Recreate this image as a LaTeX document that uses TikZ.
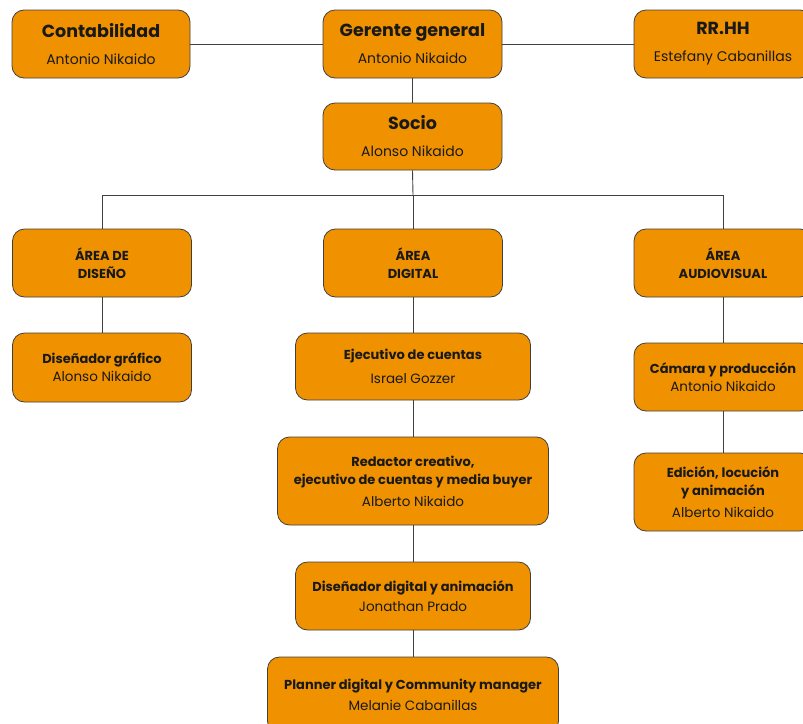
\documentclass[tikz,border=0pt]{standalone}
\usepackage{fontspec}
\setmainfont{Poppins}
\definecolor{boxor}{RGB}{240,146,0}
\definecolor{edgec}{RGB}{64,64,64}
\newcommand{\bnm}{\fontsize{14}{18}\selectfont}
\newcommand{\snm}{\fontsize{13.5}{18}\selectfont}
\begin{document}
\begin{tikzpicture}[x=1pt,y=-1pt,
 box/.style={draw=edgec, line width=0.8pt, fill=boxor, rounded corners=12pt, align=center, inner sep=0pt, text=black!90},
 big/.style={font=\fontsize{17.5}{20}\selectfont},
 small/.style={font=\fontsize{13}{18}\selectfont},
 conn/.style={draw=edgec, line width=0.9pt}]
\useasboundingbox (0,0) rectangle (803,723);
% top row
\node[box, big, minimum width=178pt, minimum height=68pt] (cont) at (101,44)
  {\textbf{Contabilidad}\\[7pt]{\bnm Antonio Nikaido}};
\node[box, big, minimum width=179pt, minimum height=68pt] (ger) at (412.5,44)
  {\textbf{Gerente general}\\[7pt]{\bnm Antonio Nikaido}};
\node[box, big, minimum width=178pt, minimum height=68pt] (rrhh) at (723,44)
  {\textbf{RR.HH}\\[7pt]{\bnm Estefany Cabanillas}};
\node[box, big, minimum width=179pt, minimum height=67pt] (soc) at (412.5,136.5)
  {\textbf{Socio}\\[7pt]{\bnm Alonso Nikaido}};
% areas
\node[box, small, minimum width=179pt, minimum height=68pt] (dis) at (102,263)
  {\textbf{ÁREA DE}\\\textbf{DISEÑO}};
\node[box, small, minimum width=179pt, minimum height=68pt] (dig) at (413,263)
  {\textbf{ÁREA}\\\textbf{DIGITAL}};
\node[box, small, minimum width=178pt, minimum height=68pt] (aud) at (723,263)
  {\textbf{ÁREA}\\\textbf{AUDIOVISUAL}};
% design
\node[box, small, minimum width=179pt, minimum height=69pt] (dgraf) at (102,367.5)
  {\textbf{Diseñador gráfico}\\{\snm Alonso Nikaido}};
% digital
\node[box, small, minimum width=235pt, minimum height=67pt] (ejec) at (413,366.5)
  {\textbf{Ejecutivo de cuentas}\\[6pt]{\snm Israel Gozzer}};
\node[box, small, minimum width=271pt, minimum height=88pt] (redac) at (413,481)
  {\textbf{Redactor creativo,}\\\textbf{ejecutivo de cuentas y media buyer}\\[4pt]{\snm Alberto Nikaido}};
\node[box, small, minimum width=235pt, minimum height=68pt] (ddig) at (413,596)
  {\textbf{Diseñador digital y animación}\\[2pt]{\snm Jonathan Prado}};
\node[box, small, minimum width=291pt, minimum height=76pt] (plan) at (413,695)
  {\textbf{Planner digital y Community manager}\\[3pt]{\snm Melanie Cabanillas}};
% audiovisual
\node[box, small, minimum width=178pt, minimum height=68pt] (cam) at (723,377)
  {\textbf{Cámara y producción}\\{\snm Antonio Nikaido}};
\node[box, small, minimum width=178pt, minimum height=78pt] (edi) at (723,492)
  {\textbf{Edición, locución}\\\textbf{y animación}\\[4pt]{\snm Alberto Nikaido}};
% connectors
\coordinate (busL) at (102,195);
\coordinate (busM) at (413,195);
\coordinate (busR) at (723,195);
\draw[conn] (cont.east) -- (ger.west);
\draw[conn] (ger.east) -- (rrhh.west);
\draw[conn] (ger.south) -- (soc.north);
\draw[conn] (soc.south) -- (busM);
\draw[conn] (busL) -- (busR);
\draw[conn] (busL) -- (dis.north);
\draw[conn] (busM) -- (dig.north);
\draw[conn] (busR) -- (aud.north);
\draw[conn] (dis.south) -- (dgraf.north);
\draw[conn] (dig.south) -- (ejec.north);
\draw[conn] (ejec.south) -- (redac.north);
\draw[conn] (redac.south) -- (ddig.north);
\draw[conn] (ddig.south) -- (plan.north);
\draw[conn] (aud.south) -- (cam.north);
\draw[conn] (cam.south) -- (edi.north);
\end{tikzpicture}
\end{document}
